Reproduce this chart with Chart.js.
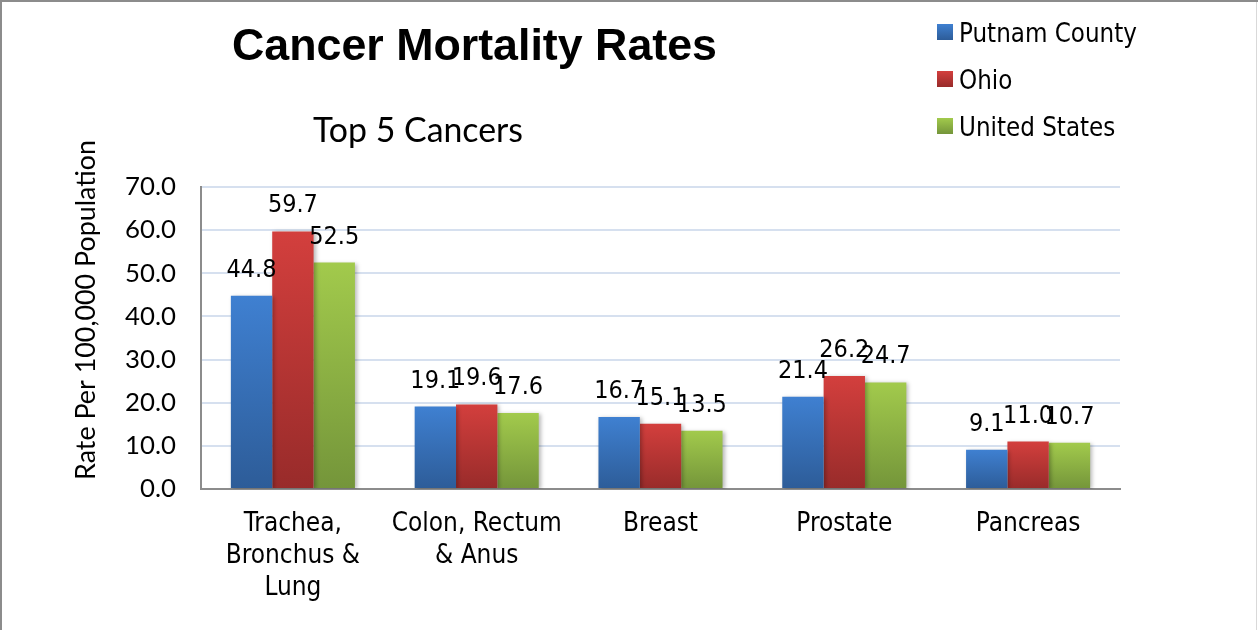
<!DOCTYPE html>
<html>
<head>
<meta charset="utf-8">
<script src="https://cdn.jsdelivr.net/npm/chart.js@4/dist/chart.umd.min.js"></script>
<style>
  html, body { margin: 0; padding: 0; background: #ffffff; }
  canvas { display: block; }
</style>
</head>
<body>
<canvas id="c" width="1258" height="630"></canvas>
<script>
// ---- Data ----
const chartTitle = 'Cancer Mortality Rates';
const chartSubtitle = 'Top 5 Cancers';
const yAxisTitle = 'Rate Per 100,000 Population';
const categories = [
  ['Trachea,', 'Bronchus &', 'Lung'],
  ['Colon, Rectum', '& Anus'],
  'Breast',
  'Prostate',
  'Pancreas'
];
const seriesNames = ['Putnam County', 'Ohio', 'United States'];
const putnamCounty = [44.8, 19.1, 16.7, 21.4, 9.1];
const ohio = [59.7, 19.6, 15.1, 26.2, 11.0];
const unitedStates = [52.5, 17.6, 13.5, 24.7, 10.7];
const yMin = 0, yMax = 70, yStep = 10;

// ---- Styles ----
const gradTop = ['#3f80d1', '#d33f3d', '#a2ca4c'];
const gradBottom = ['#2d5c98', '#982b2a', '#74953a'];

// ---- Fonts ----
const mctx = document.createElement('canvas').getContext('2d');
function fontAvailable(name) {
  const s = 'abcdefghijklmnopqrstuvwxyzABCDEFGHIJKLMNOPQRSTUVWXYZ0123456789';
  for (const base of ['monospace', 'serif']) {
    mctx.font = '72px ' + base;
    const w0 = mctx.measureText(s).width;
    mctx.font = '72px "' + name + '", ' + base;
    if (mctx.measureText(s).width !== w0) return true;
  }
  return false;
}
const TAHOMA = fontAvailable('DejaVu Sans Condensed') ? '"DejaVu Sans Condensed", "DejaVu Sans", sans-serif' : '"Liberation Sans", sans-serif';
const CALIBRI = '"Lato", "Open Sans", sans-serif';
const ARIALB = '"Liberation Sans", Arial, sans-serif';
function fit(text, family, weight, target) {
  mctx.font = weight + ' 100px ' + family;
  return 100 * target / mctx.measureText(text).width;
}
const titleSize = fit(chartTitle, ARIALB, 'bold', 485);
const subSize = fit(chartSubtitle, CALIBRI, 'normal', 210);
const axisTitleSize = fit(yAxisTitle, CALIBRI, 'normal', 340);
const yTickSize = fit('70.0', CALIBRI, 'normal', 51);
const catSize = fit('Colon, Rectum', TAHOMA, 'normal', 170);
const labelSize = fit('44.8', TAHOMA, 'normal', 50);
const legendSize = fit('Putnam County', TAHOMA, 'normal', 178);

function barGradient(i) {
  return (ctx) => {
    const chart = ctx.chart;
    if (!chart.chartArea || ctx.type !== 'data') return gradTop[i];
    const y = chart.scales.y;
    const top = y.getPixelForValue(ctx.raw);
    const bottom = y.getPixelForValue(0);
    const g = chart.ctx.createLinearGradient(0, top, 0, bottom);
    g.addColorStop(0, gradTop[i]);
    g.addColorStop(1, gradBottom[i]);
    return g;
  };
}

const decorPlugin = {
  id: 'decor',
  beforeDraw(chart) {
    const c = chart.ctx;
    c.save();
    c.fillStyle = '#ffffff';
    c.fillRect(0, 0, chart.width, chart.height);
    c.restore();
  },
  beforeDatasetsDraw(chart) {
    const c = chart.ctx;
    c.save();
    c.shadowColor = 'rgba(0,0,0,0.28)';
    c.shadowBlur = 4;
    c.shadowOffsetX = 2;
    c.shadowOffsetY = 1;
  },
  afterDatasetsDraw(chart) {
    const c = chart.ctx;
    c.restore();
    c.save();
    c.fillStyle = '#000000';
    c.font = labelSize.toFixed(2) + 'px ' + TAHOMA;
    c.textAlign = 'center';
    c.textBaseline = 'alphabetic';
    chart.data.datasets.forEach((ds, di) => {
      const meta = chart.getDatasetMeta(di);
      meta.data.forEach((el, j) => {
        c.fillText(ds.data[j].toFixed(1), el.x, el.y - 19);
      });
    });
    c.restore();
  },
  afterDraw(chart) {
    const c = chart.ctx;
    c.save();
    // titles
    c.fillStyle = '#000000';
    c.textAlign = 'center';
    c.textBaseline = 'alphabetic';
    c.font = 'bold ' + titleSize.toFixed(2) + 'px ' + ARIALB;
    c.fillText(chartTitle, 474.5, 60);
    c.font = subSize.toFixed(2) + 'px ' + CALIBRI;
    c.fillText(chartSubtitle, 418, 142);
    // y axis title
    c.save();
    c.translate(95, 310);
    c.rotate(-Math.PI / 2);
    c.font = axisTitleSize.toFixed(2) + 'px ' + CALIBRI;
    c.fillText(yAxisTitle, 0, 0);
    c.restore();
    // legend
    c.textAlign = 'left';
    c.font = legendSize.toFixed(2) + 'px ' + TAHOMA;
    chart.data.datasets.forEach((ds, i) => {
      const base = 42 + 47 * i;
      const g = c.createLinearGradient(0, base - 18, 0, base - 2);
      g.addColorStop(0, gradTop[i]);
      g.addColorStop(1, gradBottom[i]);
      c.fillStyle = g;
      c.fillRect(937, base - 18, 16, 16);
      c.fillStyle = '#000000';
      c.fillText(ds.label, 959, base);
    });
    // outer frame
    c.strokeStyle = '#8c8c8c';
    c.lineWidth = 2;
    c.beginPath();
    c.moveTo(1, chart.height);
    c.lineTo(1, 1);
    c.lineTo(chart.width, 1);
    c.stroke();
    c.strokeStyle = '#d9d9d9';
    c.lineWidth = 1;
    c.beginPath();
    c.moveTo(1256.5, 2);
    c.lineTo(1256.5, chart.height);
    c.stroke();
    c.restore();
  }
};

new Chart(document.getElementById('c'), {
  type: 'bar',
  data: {
    labels: categories,
    datasets: [
      { label: seriesNames[0], data: putnamCounty, backgroundColor: barGradient(0) },
      { label: seriesNames[1], data: ohio, backgroundColor: barGradient(1) },
      { label: seriesNames[2], data: unitedStates, backgroundColor: barGradient(2) }
    ]
  },
  options: {
    responsive: false,
    devicePixelRatio: 1,
    animation: false,
    layout: { padding: { left: 0, top: 187, right: 138, bottom: 0 } },
    datasets: { bar: { categoryPercentage: 0.675, barPercentage: 1.0, borderWidth: 0 } },
    plugins: {
      legend: { display: false },
      title: { display: false },
      tooltip: { enabled: false }
    },
    scales: {
      x: {
        grid: { display: true, color: 'transparent', drawTicks: false },
        border: { display: true, color: '#8c8c8c', width: 2 },
        ticks: {
          color: '#000000',
          padding: 19,
          maxRotation: 0,
          autoSkip: false,
          font: { family: TAHOMA, size: catSize, lineHeight: '32px' }
        },
        afterFit(s) { s.height = 141; }
      },
      y: {
        min: yMin,
        max: yMax,
        grid: {
          color: (ctx) => (ctx.tick && ctx.tick.value === 0) ? 'transparent' : '#d6e0ef',
          lineWidth: 2,
          drawTicks: false
        },
        border: { display: true, color: '#8c8c8c', width: 2 },
        ticks: {
          stepSize: yStep,
          color: '#000000',
          padding: 25,
          font: { family: CALIBRI, size: yTickSize },
          callback: (v) => Number(v).toFixed(1)
        },
        afterFit(s) { s.width = 201; }
      }
    }
  },
  plugins: [decorPlugin]
});
</script>
</body>
</html>
